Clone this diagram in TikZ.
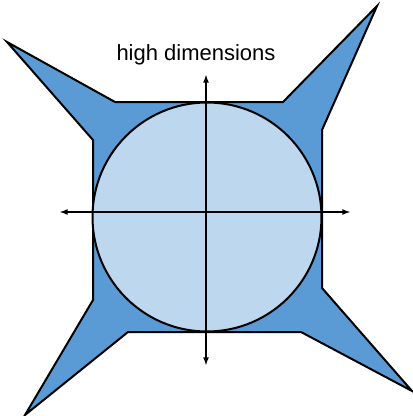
\documentclass[tikz,border=0pt]{standalone}
\usepackage{fontspec}
\setmainfont{Liberation Sans}
\definecolor{starblue}{RGB}{91,155,213}
\definecolor{ballblue}{RGB}{189,215,238}
\begin{document}
\begin{tikzpicture}[x=1pt, y=-1pt, >=latex,
    outline/.style={draw=black, line width=2pt, line join=miter},
    axis/.style={line width=1.6pt, ->}]
        % ==== DEFINITIONS ====
        \def\cx{207} % centre of the ball
        \def\cy{217}
        \def\rad{114.5} % radius of the ball

        \useasboundingbox (0,0) rectangle (413,416);

        % ==== SPIKY CUBE ====
        \filldraw[outline, fill=starblue] (7,42) -- (115,102) -- (283,102) -- (377,6)
            -- (322,130) -- (322,288) -- (412,391) -- (301,332) -- (128,332)
            -- (25,415) -- (93,300) -- (93,140) -- cycle;

        % ==== BALL ====
        \filldraw[outline, fill=ballblue] (\cx,\cy) circle(\rad);

        % ==== AXES ====
        \coordinate (O) at (206,212);
        \coordinate (left) at (60,212);
        \coordinate (right) at (350,212);
        \coordinate (up) at (206,75);
        \coordinate (down) at (206,365);
        \draw[axis] (O) -- (left);
        \draw[axis] (O) -- (right);
        \draw[axis] (O) -- (up);
        \draw[axis] (O) -- (down);

        % ==== TITLE ====
        \node (title) at (196,55) {\fontsize{22}{26}\selectfont high dimensions};
    \end{tikzpicture}
\end{document}
